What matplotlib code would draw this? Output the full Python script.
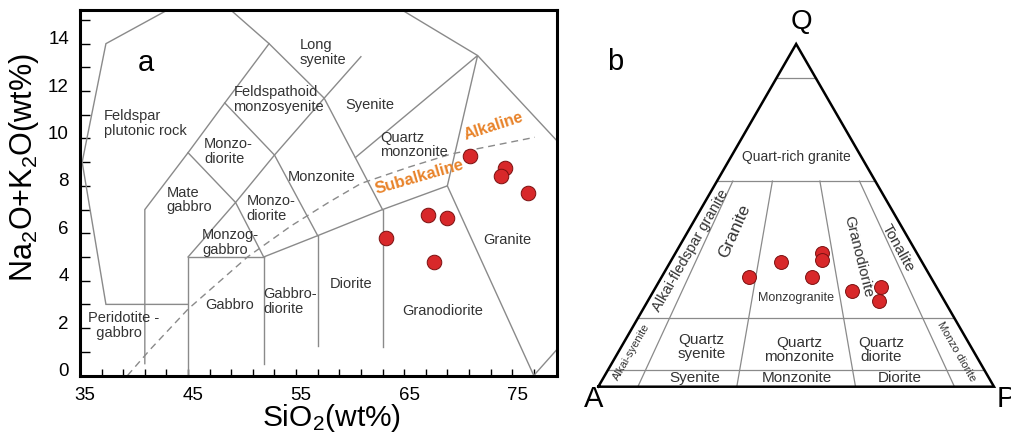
import numpy as np
import matplotlib
matplotlib.use('Agg')
import matplotlib.pyplot as plt
from matplotlib.transforms import ScaledTranslation

plt.rcParams['font.family'] = ['Liberation Sans', 'DejaVu Sans']
plt.rcParams['mathtext.fontset'] = 'custom'
plt.rcParams['mathtext.rm'] = 'Liberation Sans'
plt.rcParams['mathtext.it'] = 'Liberation Sans:italic'
plt.rcParams['mathtext.bf'] = 'Liberation Sans:bold'

# ---------------- data ----------------
# (a) TAS samples
sio2 = [71.1, 74.3, 74.0, 76.5, 67.2, 69.0, 63.3, 67.8]
alkali = [9.26, 8.74, 8.43, 7.71, 6.77, 6.66, 5.79, 4.78]

# (b) QAP samples (%)
qap_q = [32, 36.5, 39, 37, 32, 28, 29, 25]
qap_a = [46, 35.5, 24, 25, 30, 22, 14, 16.5]
qap_p = [22, 28, 37, 38, 38, 50, 57, 58.5]

# TAS field boundaries (SiO2, Na2O+K2O)
tas_boundaries = [
    [(43.1, 15.42), (37.4, 14.0), (35.2, 9.0), (37.4, 3.0), (45, 3)],
    [(41, 0.5), (41, 7), (45, 9.4), (48.4, 11.5), (52.5, 14), (48.95, 15.42)],
    [(45, 0), (45, 5), (52, 5)],
    [(52, 0.5), (52, 5)],
    [(45, 5), (49.4, 7.3), (52, 5)],
    [(45, 9.4), (49.4, 7.3), (53, 9.3), (57.6, 11.7), (61, 13.45)],
    [(48.4, 11.5), (53, 9.3), (57, 5.9)],
    [(52.5, 14), (57.6, 11.7), (63, 7)],
    [(52, 5), (57, 5.9), (63, 7), (69, 8), (77, 0), (79.15, 1.1)],
    [(57, 1.25), (57, 5.9)],
    [(63, 1.2), (63, 7)],
    [(60.5, 9.2), (71.8, 13.5), (69, 8)],
    [(64.8, 15.42), (71.8, 13.5), (79.15, 9.9)],
]
# Irvine & Baragar alkaline / subalkaline divide
ib_sio2 = [39.4, 41.5, 45.0, 50.5, 54.5, 58.0, 61.0, 65.5, 69.4, 77.1]
ib_alk = [0.0, 1.1, 2.8, 5.0, 6.3, 7.3, 8.1, 8.8, 9.35, 10.05]

tas_labels = [
    ("Feldspar\nplutonic rock", 37.2, 10.62),
    ("Long\nsyenite", 55.35, 13.63),
    ("Feldspathoid\nmonzosyenite", 49.2, 11.64),
    ("Syenite", 59.6, 11.41),
    ("Monzo-\ndiorite", 46.5, 9.45),
    ("Quartz\nmonzonite", 62.75, 9.72),
    ("Monzonite", 54.2, 8.39),
    ("Mate\ngabbro", 43.0, 7.4),
    ("Monzo-\ndiorite", 50.4, 7.05),
    ("Monzog-\ngabbro", 46.3, 5.6),
    ("Granite", 72.3, 5.72),
    ("Diorite", 58.1, 3.85),
    ("Gabbro", 46.6, 2.97),
    ("Gabbro-\ndiorite", 52.0, 3.12),
    ("Granodiorite", 64.8, 2.73),
    ("Peridotite -\n  gabbro", 35.7, 2.1),
]

# QAP field labels: (text, x, y, rotation, size) in triangle coordinates
qap_labels = [
    ("Quart-rich granite", 0.501, 0.581, 0, 10),
    ("Granite", 0.345, 0.392, 66, 12.5),
    ("Alkai-fledspar granite", 0.232, 0.345, 60, 10.5),
    ("Granodiorite", 0.657, 0.329, -76, 11),
    ("Tonalite", 0.758, 0.350, -61, 11),
    ("Monzogranite", 0.4996, 0.225, 0, 9),
    ("Alkai-syenite", 0.0844, 0.0885, 60, 8),
    ("Quartz\nsyenite", 0.261, 0.101, 0, 11),
    ("Quartz\nmonzonite", 0.507, 0.0927, 0, 11),
    ("Quartz\ndiorite", 0.716, 0.0927, 0, 11),
    ("Monzo diorite", 0.906, 0.0885, -60, 8),
    ("Syenite", 0.244, 0.0227, 0, 11),
    ("Monzonite", 0.501, 0.0227, 0, 11),
    ("Diorite", 0.762, 0.0227, 0, 11),
]

RED = '#d8282a'
EDGE = '#7a1010'
LINE = '#8a8a8a'
TXT = '#333333'

fig = plt.figure(figsize=(10.11, 4.34), dpi=100)

# ---------------- panel a ----------------
axa = fig.add_axes([80 / 1011, 58.5 / 434, 477 / 1011, 365.5 / 434])
axa.set_xlim(35, 79.15)
axa.set_ylim(0, 15.42)
for seg in tas_boundaries:
    xs, ys = zip(*seg)
    axa.plot(xs, ys, color=LINE, lw=1.0, solid_joinstyle='miter')
axa.plot(ib_sio2, ib_alk, color=LINE, lw=1.0, dashes=(5, 3.5))
for s, x, y in tas_labels:
    axa.text(x, y, s, ha='left', va='center', fontsize=10.5, color=TXT,
             linespacing=1.05)
axa.text(73.3, 10.5, "Alkaline", rotation=18, ha='center', va='center',
         fontsize=11.5, fontweight='bold', color='#e8832a')
axa.text(66.4, 8.39, "Subalkaline", rotation=16, ha='center', va='center',
         fontsize=12, fontweight='bold', color='#e8832a')
axa.text(41.07, 13.2, "a", ha='center', va='center', fontsize=21)
axa.scatter(sio2, alkali, s=110, color=RED, edgecolor=EDGE, linewidth=0.7,
            zorder=5)

for sp in axa.spines.values():
    sp.set_linewidth(2.2)
axa.set_xticks([35, 45, 55, 65, 75])
axa.set_xticks(np.arange(37, 79, 2), minor=True)
axa.set_yticks(np.arange(0, 15, 2))
axa.set_yticks(np.arange(1, 16, 2), minor=True)
axa.tick_params(axis='both', which='both', direction='in', width=1.0,
                labelsize=13.5)
axa.tick_params(axis='x', which='both', length=5, pad=8)
axa.tick_params(axis='y', which='both', length=7, pad=8)
offy = ScaledTranslation(0, 6 / 100, fig.dpi_scale_trans)
for lab in axa.get_yticklabels():
    lab.set_transform(lab.get_transform() + offy)
offx = ScaledTranslation(5 / 100, 0, fig.dpi_scale_trans)
for lab in axa.get_xticklabels():
    lab.set_transform(lab.get_transform() + offx)

fig.text(24 / 1011, 1 - 168 / 434, r"Na$_2$O+K$_2$O(wt%)", rotation=90,
         ha='center', va='center', fontsize=22)
fig.text(332 / 1011, 7.5 / 434, r"SiO$_2$(wt%)", ha='center',
         va='baseline', fontsize=21.5)

# ---------------- panel b ----------------
axb = fig.add_axes([598.3 / 1011, 47.3 / 434, 395.7 / 1011, 342.7 / 434])
axb.set_xlim(0, 1)
axb.set_ylim(0, np.sqrt(3) / 2)
axb.axis('off')

def tern(q, a, p):
    q = np.asarray(q, float); a = np.asarray(a, float); p = np.asarray(p, float)
    t = q + a + p
    q, p = q / t, p / t
    return p + q / 2, q * np.sqrt(3) / 2

def qap_line(q0, r0, q1, r1):
    # r = P/(A+P)
    x0, y0 = tern(q0, (1 - q0) * (1 - r0), (1 - q0) * r0)
    x1, y1 = tern(q1, (1 - q1) * (1 - r1), (1 - q1) * r1)
    axb.plot([x0, x1], [y0, y1], color=LINE, lw=0.9)

for qlev in [0.9, 0.6, 0.2, 0.05]:
    qap_line(qlev, 0, qlev, 1)
for r in [0.1, 0.35, 0.65, 0.9]:
    qap_line(0.6, r, 0.0, r)

tx, ty = tern([0, 1, 0, 0], [1, 0, 0, 1], [0, 0, 1, 0])
axb.plot(tx, ty, color='black', lw=1.8, solid_joinstyle='miter', clip_on=False)

for s, x, y, rot, fs in qap_labels:
    axb.text(x, y, s, rotation=rot, ha='center', va='center', fontsize=fs,
             color=TXT, linespacing=1.0, rotation_mode='anchor')

axb.text(0.514, 0.922, "Q", ha='center', va='center', fontsize=20,
         clip_on=False)
axb.text(-0.013, -0.03, "A", ha='center', va='center', fontsize=21,
         clip_on=False)
axb.text(1.03, -0.03, "P", ha='center', va='center', fontsize=21,
         clip_on=False)
axb.text(0.042, 0.821, "b", ha='center', va='center', fontsize=21,
         clip_on=False)

bx, by = tern(qap_q, qap_a, qap_p)
axb.scatter(bx, by, s=100, color=RED, edgecolor=EDGE, linewidth=0.7,
            zorder=5, clip_on=False)

fig.savefig('out.png', dpi=100)
